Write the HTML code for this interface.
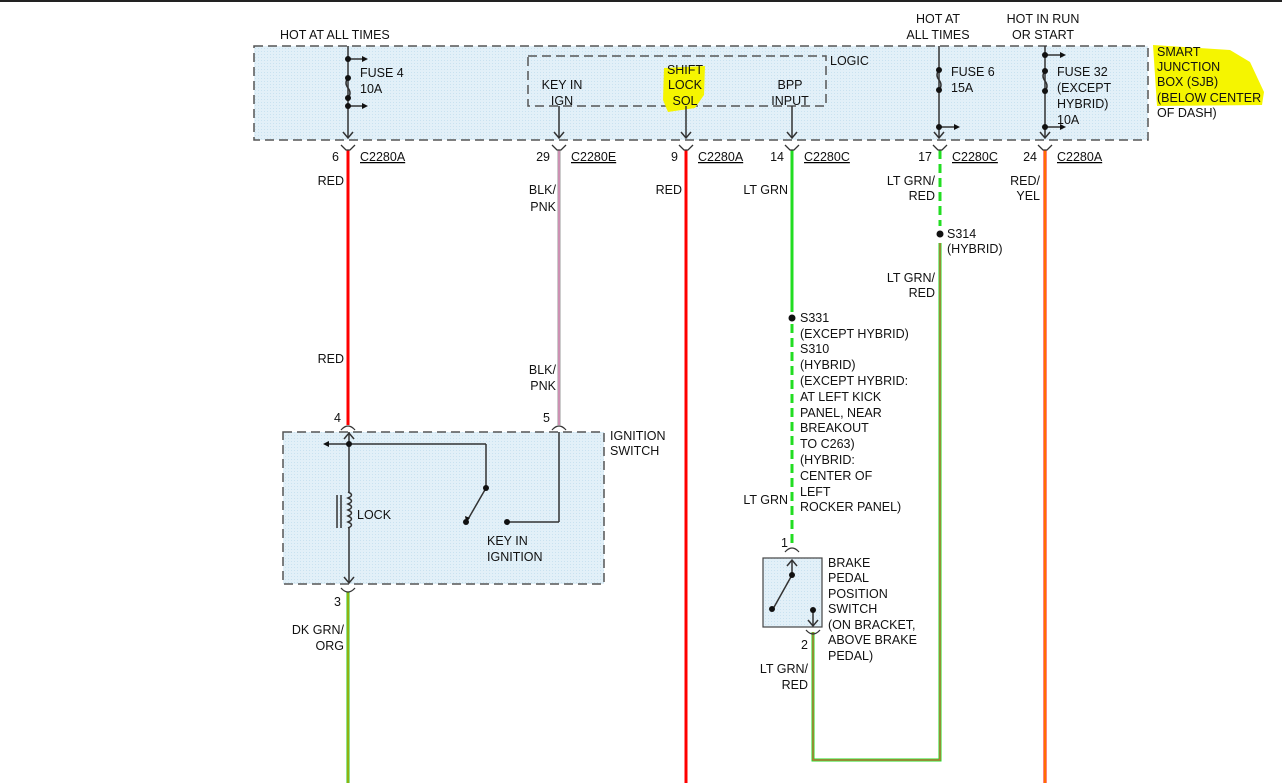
<!DOCTYPE html>
<html><head><meta charset="utf-8"><style>
html,body{margin:0;padding:0;background:#fff;}
svg{display:block;font-family:"Liberation Sans",Arial,sans-serif;font-size:12.5px;}
text{fill:#111;}
</style></head><body>
<svg width="1282" height="783" viewBox="0 0 1282 783" xmlns="http://www.w3.org/2000/svg">
<defs>
<pattern id="dots" width="3" height="3" patternUnits="userSpaceOnUse"><rect width="3" height="3" fill="#e2f0f8"/><rect width="1" height="1" fill="#c9e2f0"/></pattern>
</defs>
<rect x="0" y="0" width="1282" height="2" fill="#222"/>
<!-- boxes -->
<rect x="254" y="46" width="894" height="94" fill="url(#dots)" stroke="#555" stroke-width="1.5" stroke-dasharray="9,5"/>
<rect x="528" y="56" width="298" height="50" fill="none" stroke="#555" stroke-width="1.5" stroke-dasharray="9,5"/>
<rect x="283" y="432" width="321" height="152" fill="url(#dots)" stroke="#555" stroke-width="1.5" stroke-dasharray="9,5"/>
<rect x="763" y="558" width="59" height="69" fill="url(#dots)" stroke="#444" stroke-width="1.2"/>
<!-- highlights -->
<path d="M664 68 L705 66 L704 95 L695 108 L668 112 L663 100 Z" fill="#f5f500"/>
<path d="M1153 45 L1230 50 L1250 62 L1264 92 L1262 105 L1157 106 Z" fill="#f5f500"/>

<!-- wires -->
<g stroke-linecap="butt">
<line x1="348" y1="150" x2="348" y2="425" stroke="#f00" stroke-width="3"/>
<line x1="348" y1="592" x2="348" y2="783" stroke="#2c2" stroke-width="3"/>
<line x1="348" y1="592" x2="348" y2="783" stroke="#f90" stroke-width="1"/>
<line x1="559" y1="150" x2="559" y2="425" stroke="#999" stroke-width="3"/>
<line x1="559" y1="150" x2="559" y2="425" stroke="#f8c" stroke-width="1"/>
<line x1="686" y1="150" x2="686" y2="783" stroke="#f00" stroke-width="3"/>
<line x1="792" y1="150" x2="792" y2="312" stroke="#2d2" stroke-width="3"/>
<line x1="792" y1="324" x2="792" y2="546" stroke="#2d2" stroke-width="3" stroke-dasharray="9,5"/>
<line x1="940" y1="150" x2="940" y2="226" stroke="#2d2" stroke-width="3" stroke-dasharray="9,5"/>
<polyline points="940,243 940,760 813,760 813,632" fill="none" stroke="#2d2" stroke-width="3"/>
<polyline points="940,243 940,760 813,760 813,632" fill="none" stroke="#f44" stroke-width="1"/>
<line x1="1045" y1="150" x2="1045" y2="783" stroke="#f00" stroke-width="3"/>
<line x1="1045" y1="150" x2="1045" y2="783" stroke="#fd0" stroke-width="1"/>
</g>

<!-- internal lines -->
<g stroke="#333" stroke-width="1.5" fill="none">
<line x1="348" y1="46" x2="348" y2="138"/>
<path d="M343 132 L348 138 L353 132"/>
<path d="M348 78 q-4 5 0 10 q4 5 0 10"/>
<line x1="348" y1="59" x2="362" y2="59"/><line x1="348" y1="106" x2="362" y2="106"/>
<line x1="559" y1="106" x2="559" y2="138"/><path d="M554 132 L559 138 L564 132"/>
<line x1="686" y1="106" x2="686" y2="138"/><path d="M681 132 L686 138 L691 132"/>
<line x1="792" y1="106" x2="792" y2="138"/><path d="M787 132 L792 138 L797 132"/>
<line x1="939" y1="46" x2="939" y2="138"/><path d="M934 132 L939 138 L944 132"/>
<path d="M939 70 q-4 5 0 10 q4 5 0 10"/>
<line x1="939" y1="127" x2="954" y2="127"/>
<line x1="1045" y1="46" x2="1045" y2="138"/><path d="M1040 132 L1045 138 L1050 132"/>
<path d="M1045 71 q-4 5 0 10 q4 5 0 10"/>
<line x1="1045" y1="55" x2="1060" y2="55"/><line x1="1045" y1="127" x2="1060" y2="127"/>
<!-- ignition switch -->
<line x1="349" y1="432" x2="349" y2="583"/>
<path d="M344 439 L349 433 L354 439"/><path d="M344 577 L349 583 L354 577"/>
<line x1="326" y1="444" x2="486" y2="444"/><line x1="486" y1="444" x2="486" y2="488"/>
<line x1="486" y1="488" x2="467" y2="521"/>
<line x1="507" y1="522" x2="559" y2="522"/><line x1="559" y1="522" x2="559" y2="432"/>
<line x1="337" y1="495" x2="337" y2="528"/><line x1="341" y1="495" x2="341" y2="528"/>
<!-- BPP switch -->
<line x1="792" y1="560" x2="792" y2="575"/><path d="M787 566 L792 560 L797 566"/>
<line x1="792" y1="575" x2="773" y2="609"/>
<line x1="813" y1="611" x2="813" y2="626"/><path d="M808 620 L813 626 L818 620"/>
</g>
<path d="M348 492 q7 3 0 6 q7 3 0 6 q7 3 0 6 q7 3 0 6 q7 3 0 6 q7 3 0 6" fill="url(#dots)" stroke="#333" stroke-width="1.5"/>
<g fill="#111">
<circle cx="348" cy="59" r="3"/><circle cx="348" cy="78" r="3"/><circle cx="348" cy="98" r="3"/><circle cx="348" cy="106" r="3"/>
<path d="M362 56 L368 59 L362 62Z"/><path d="M362 103 L368 106 L362 109Z"/>
<circle cx="939" cy="70" r="3"/><circle cx="939" cy="90" r="3"/><circle cx="939" cy="127" r="3"/>
<path d="M954 124 L960 127 L954 130Z"/>
<circle cx="1045" cy="55" r="3"/><circle cx="1045" cy="71" r="3"/><circle cx="1045" cy="91" r="3"/><circle cx="1045" cy="127" r="3"/>
<path d="M1060 52 L1066 55 L1060 58Z"/><path d="M1060 124 L1066 127 L1060 130Z"/>
<circle cx="349" cy="444" r="3"/><path d="M329 441 L323 444 L329 447Z"/>
<circle cx="486" cy="488" r="3"/><circle cx="466" cy="522" r="3"/><circle cx="507" cy="522" r="3"/>
<path d="M465 516 L466 522 L470 518Z"/>
<circle cx="792" cy="575" r="3"/><circle cx="772" cy="609" r="3"/><circle cx="813" cy="610" r="3"/>
<circle cx="940" cy="234" r="3.5"/><circle cx="792" cy="318" r="3.5"/>
</g>
<!-- connector caps -->
<g stroke="#333" stroke-width="1.3" fill="none">
<path d="M341 145 L346 150 L350 150 L355 145"/>
<path d="M552 145 L557 150 L561 150 L566 145"/>
<path d="M679 145 L684 150 L688 150 L693 145"/>
<path d="M785 145 L790 150 L794 150 L799 145"/>
<path d="M933 145 L938 150 L942 150 L947 145"/>
<path d="M1038 145 L1043 150 L1047 150 L1052 145"/>
<path d="M341 430 Q348 422 355 430"/>
<path d="M552 430 Q559 422 566 430"/>
<path d="M341 588 Q348 596 355 588"/>
<path d="M785 552 Q792 544 799 552"/>
<path d="M806 630 Q813 638 820 630"/>
</g>
<!-- labels -->
<text x="280" y="39">HOT AT ALL TIMES</text>
<text x="360" y="77">FUSE 4</text><text x="360" y="93">10A</text>
<text x="562" y="89" text-anchor="middle">KEY IN</text><text x="562" y="105" text-anchor="middle">IGN</text>
<text x="685" y="74" text-anchor="middle">SHIFT</text><text x="685" y="89" text-anchor="middle">LOCK</text><text x="685" y="105" text-anchor="middle">SOL</text>
<text x="790" y="89" text-anchor="middle">BPP</text><text x="790" y="105" text-anchor="middle">INPUT</text>
<text x="830" y="65">LOGIC</text>
<text x="938" y="23" text-anchor="middle">HOT AT</text><text x="938" y="39" text-anchor="middle">ALL TIMES</text>
<text x="1043" y="23" text-anchor="middle">HOT IN RUN</text><text x="1043" y="39" text-anchor="middle">OR START</text>
<text x="951" y="76">FUSE 6</text><text x="951" y="92">15A</text>
<text x="1057" y="76">FUSE 32</text><text x="1057" y="92">(EXCEPT</text><text x="1057" y="108">HYBRID)</text><text x="1057" y="124">10A</text>
<text x="1157" y="56">SMART</text><text x="1157" y="71">JUNCTION</text><text x="1157" y="86">BOX (SJB)</text><text x="1157" y="102">(BELOW CENTER</text><text x="1157" y="117">OF DASH)</text>
<g text-decoration="underline">
<text x="360" y="161">C2280A</text><text x="571" y="161">C2280E</text><text x="698" y="161">C2280A</text>
<text x="804" y="161">C2280C</text><text x="952" y="161">C2280C</text><text x="1057" y="161">C2280A</text>
</g>
<text x="339" y="161" text-anchor="end">6</text><text x="550" y="161" text-anchor="end">29</text>
<text x="678" y="161" text-anchor="end">9</text><text x="784" y="161" text-anchor="end">14</text>
<text x="932" y="161" text-anchor="end">17</text><text x="1037" y="161" text-anchor="end">24</text>
<text x="344" y="185" text-anchor="end">RED</text>
<text x="556" y="194" text-anchor="end">BLK/</text><text x="556" y="211" text-anchor="end">PNK</text>
<text x="682" y="194" text-anchor="end">RED</text>
<text x="788" y="194" text-anchor="end">LT GRN</text>
<text x="935" y="185" text-anchor="end">LT GRN/</text><text x="935" y="200" text-anchor="end">RED</text>
<text x="1040" y="185" text-anchor="end">RED/</text><text x="1040" y="200" text-anchor="end">YEL</text>
<text x="947" y="238">S314</text><text x="947" y="253">(HYBRID)</text>
<text x="935" y="282" text-anchor="end">LT GRN/</text><text x="935" y="297" text-anchor="end">RED</text>
<text x="800" y="322">S331</text><text x="800" y="338">(EXCEPT HYBRID)</text><text x="800" y="353">S310</text>
<text x="800" y="369">(HYBRID)</text><text x="800" y="385">(EXCEPT HYBRID:</text><text x="800" y="401">AT LEFT KICK</text>
<text x="800" y="417">PANEL, NEAR</text><text x="800" y="432">BREAKOUT</text><text x="800" y="448">TO C263)</text>
<text x="800" y="464">(HYBRID:</text><text x="800" y="480">CENTER OF</text><text x="800" y="496">LEFT</text><text x="800" y="511">ROCKER PANEL)</text>
<text x="788" y="504" text-anchor="end">LT GRN</text>
<text x="344" y="363" text-anchor="end">RED</text>
<text x="556" y="374" text-anchor="end">BLK/</text><text x="556" y="390" text-anchor="end">PNK</text>
<text x="341" y="422" text-anchor="end">4</text><text x="550" y="422" text-anchor="end">5</text>
<text x="610" y="440">IGNITION</text><text x="610" y="455">SWITCH</text>
<text x="357" y="519">LOCK</text>
<text x="487" y="545">KEY IN</text><text x="487" y="561">IGNITION</text>
<text x="341" y="606" text-anchor="end">3</text>
<text x="344" y="634" text-anchor="end">DK GRN/</text><text x="344" y="650" text-anchor="end">ORG</text>
<text x="788" y="547" text-anchor="end">1</text>
<text x="828" y="567">BRAKE</text><text x="828" y="582">PEDAL</text><text x="828" y="598">POSITION</text>
<text x="828" y="613">SWITCH</text><text x="828" y="629">(ON BRACKET,</text><text x="828" y="644">ABOVE BRAKE</text><text x="828" y="660">PEDAL)</text>
<text x="808" y="649" text-anchor="end">2</text>
<text x="808" y="673" text-anchor="end">LT GRN/</text><text x="808" y="689" text-anchor="end">RED</text>
</svg>
</body></html>
